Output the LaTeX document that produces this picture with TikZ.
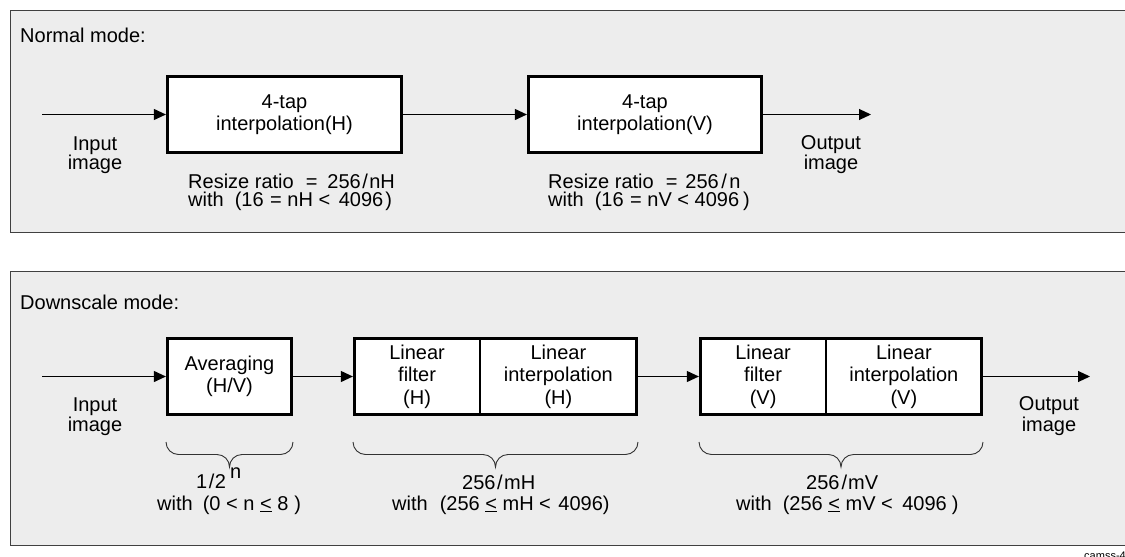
\documentclass[tikz,border=0pt]{standalone}
\usepackage{fontspec}
\setmainfont{Liberation Sans}
\usetikzlibrary{arrows.meta}
\definecolor{panelgray}{RGB}{237,237,237}
\newcommand\uleq{$\underline{\hbox{<}}$}
\newcommand\hs[1]{\hspace*{#1pt}}
\newcommand\mybrace[3]{%
  \draw[brc] (#1,#3) .. controls (#1,{#3+6.9}) and ({#1+5.6},{#3+12.5}) .. ({#1+12.5},{#3+12.5})
    -- ({(#1+#2)/2-12.5},{#3+12.5})
    .. controls ({(#1+#2)/2-5.6},{#3+12.5}) and ({(#1+#2)/2},{#3+18.1}) .. ({(#1+#2)/2},{#3+25})
    .. controls ({(#1+#2)/2},{#3+18.1}) and ({(#1+#2)/2+5.6},{#3+12.5}) .. ({(#1+#2)/2+12.5},{#3+12.5})
    -- ({#2-12.5},{#3+12.5})
    .. controls ({#2-5.6},{#3+12.5}) and (#2,{#3+6.9}) .. (#2,#3);}
\begin{document}
\begin{tikzpicture}[x=1pt,y=-1pt,
  panel/.style={draw=black!75, line width=1pt, fill=panelgray},
  blk/.style={draw=black, line width=2.7pt, fill=white, inner sep=0pt, align=center,
    minimum height=76.5pt, font=\fontsize{20}{22.5}\selectfont},
  conn/.style={draw=black, line width=1pt, -{Triangle[length=12pt,width=11pt]}},
  lbl/.style={inner sep=0pt, font=\fontsize{20}{22}\selectfont},
  brc/.style={draw=black!80, line width=0.9pt}]
\useasboundingbox (0,0) rectangle (1125,557);
% panels
\draw[panel] (10,10.7) rectangle (1135,232);
\draw[panel] (10,271.7) rectangle (1135,545);
\node[lbl, anchor=base west] (tnorm) at (20,42) {Normal mode:};
\node[lbl, anchor=base west] (tdown) at (20,309) {Downscale mode:};
% normal mode
\node[blk, minimum width=234.5pt] (b1) at (284.5,114.5) {4-tap\\interpolation(H)};
\node[blk, minimum width=233.5pt] (b2) at (645,114.5) {4-tap\\interpolation(V)};
\coordinate (in1) at (42,114.5);
\coordinate (out1) at (871,114.5);
\draw[conn] (in1) -- (b1.west);
\draw[conn] (b1.east) -- (b2.west);
\draw[conn] (b2.east) -- (out1);
\node[lbl, anchor=base] (ti1) at (95,150) {Input};
\node[lbl, anchor=base] (ti2) at (95,169) {image};
\node[lbl, anchor=base] (to1) at (831,149) {Output};
\node[lbl, anchor=base] (to2) at (831,169) {image};
\node[lbl, anchor=base west] (r1a) at (188,188) {Resize ratio\hs{12}=\hs{10}256\hs{1.5}/\hs{1.5}nH};
\node[lbl, anchor=base west] (r1b) at (188,206) {with\hs{11}(16 \hs{1}= nH < \hs{3}4096\hs{2})};
\node[lbl, anchor=base west] (r2a) at (548,188) {Resize ratio\hs{12}=\hs{8}256\hs{2.5}/\hs{2.5}n};
\node[lbl, anchor=base west] (r2b) at (548,206) {with\hs{11}(16 \hs{1}= nV < 4096\hs{4})};
% downscale mode
\node[blk, minimum width=124.5pt] (avg) at (229.5,376.5) {Averaging\\(H/V)};
\node[blk, minimum width=125.75pt] (lfh) at (417.1,376.5) {Linear\\filter\\(H)};
\node[blk, minimum width=156.75pt] (lih) at (558.4,376.5) {Linear\\interpolation\\(H)};
\node[blk, minimum width=125.75pt] (lfv) at (763.1,376.5) {Linear\\filter\\(V)};
\node[blk, minimum width=155.75pt] (liv) at (903.9,376.5) {Linear\\interpolation\\(V)};
\coordinate (in2) at (42,376.5);
\coordinate (out2) at (1090,376.5);
\draw[conn] (in2) -- (avg.west);
\draw[conn] (avg.east) -- (lfh.west);
\draw[conn] (lih.east) -- (lfv.west);
\draw[conn] (liv.east) -- (out2);
\node[lbl, anchor=base] (bi1) at (95,411.5) {Input};
\node[lbl, anchor=base] (bi2) at (95,431.5) {image};
\node[lbl, anchor=base] (bo1) at (1049,410) {Output};
\node[lbl, anchor=base] (bo2) at (1049,431) {image};
% braces
\mybrace{166}{293}{442}
\mybrace{353}{638}{442}
\mybrace{699}{983}{442}
\node[lbl, anchor=base west] (l1a) at (196,488) {1\hs{1.5}/\hs{0.5}2\hs{4}\raisebox{10pt}{n}};
\node[lbl, anchor=base west] (l1b) at (157,510) {with\hs{10}(0 < n \uleq{} 8\hs{6})};
\node[lbl, anchor=base west] (l2a) at (462,489) {256\hs{1.5}/\hs{1.5}mH};
\node[lbl, anchor=base west] (l2b) at (392,510) {with\hs{12}(256 \uleq{} mH < \hs{2}4096)};
\node[lbl, anchor=base west] (l3a) at (806,489) {256\hs{2}/\hs{1}mV};
\node[lbl, anchor=base west] (l3b) at (736,510) {with\hs{11}(256 \uleq{} mV < \hs{4}4096\hs{5})};
\node[inner sep=0pt, anchor=base east, font=\fontsize{11}{11}\selectfont] (cam) at (1126,559) {camss-4};
\end{tikzpicture}
\end{document}
